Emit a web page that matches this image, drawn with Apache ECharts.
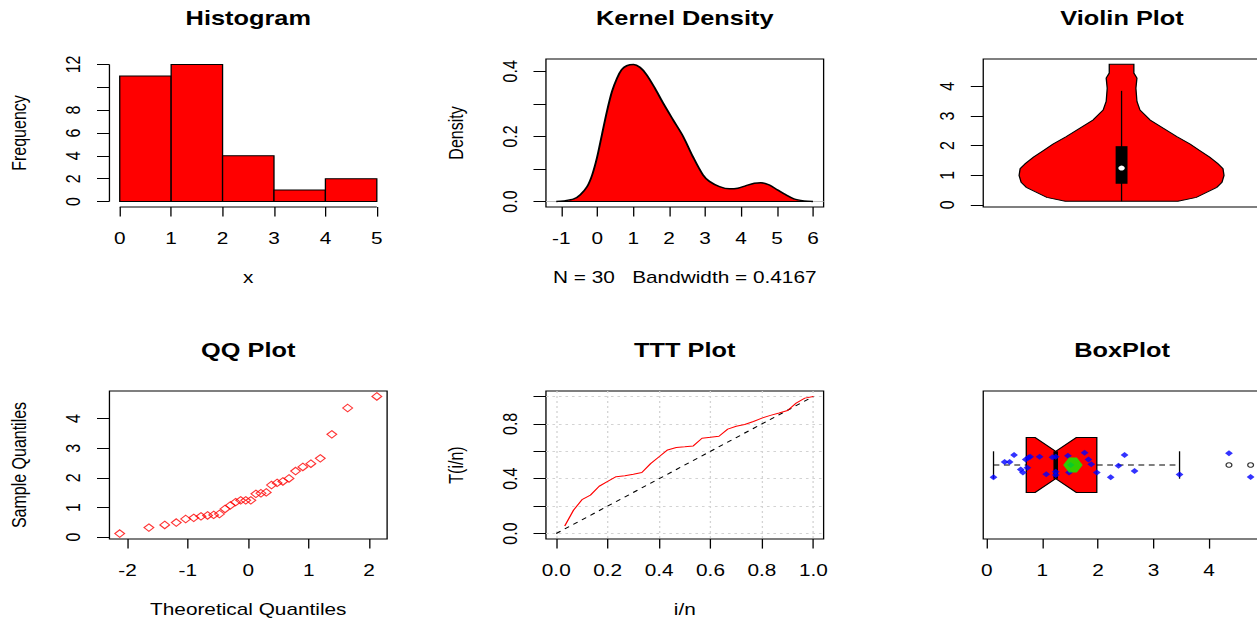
<!DOCTYPE html>
<html>
<head>
<meta charset="utf-8">
<title>Distribution plots</title>
<script src="https://cdn.jsdelivr.net/npm/echarts@6.0.0/dist/echarts.min.js"></script>
<style>
html, body { margin: 0; padding: 0; background: #fff; overflow: hidden; }
/* the reference is an R figure stretched sideways, so draw narrow and stretch */
#chart { width: 967px; height: 622px; transform: scaleX(1.2999); transform-origin: 0 0; }
</style>
</head>
<body>
<div id="chart"></div>
<script>
// sorted sample, n = 30
const sample = [0.12, 0.32, 0.41, 0.49, 0.61, 0.65, 0.70, 0.73, 0.75, 0.78,
                0.95, 1.07, 1.18, 1.24, 1.24, 1.24, 1.46, 1.48, 1.51, 1.76,
                1.83, 1.88, 1.98, 2.23, 2.37, 2.48, 2.66, 3.47, 4.36, 4.75];
// normal quantiles for the QQ plot
const qqTheory = [-2.128, -1.645, -1.383, -1.192, -1.036, -0.903, -0.783, -0.674, -0.573, -0.477,
                  -0.385, -0.297, -0.210, -0.126, -0.042, 0.042, 0.126, 0.210, 0.297, 0.385,
                  0.477, 0.573, 0.674, 0.783, 0.903, 1.036, 1.192, 1.383, 1.645, 2.128];

const histBreaks = [0, 1, 2, 3, 4, 5];
const histCounts = [11, 12, 4, 1, 2];

const densX = [-1.14, -0.93, -0.65, -0.47, -0.28, -0.14, -0.01, 0.13, 0.27, 0.41, 0.55, 0.68,
               0.82, 1.01, 1.19, 1.37, 1.60, 1.83, 2.11, 2.39, 2.66, 2.94, 3.12, 3.40, 3.68,
               3.91, 4.14, 4.37, 4.55, 4.78, 5.01, 5.24, 5.47, 5.75, 6.0];
const densY = [0, 0.002, 0.008, 0.021, 0.046, 0.082, 0.133, 0.205, 0.277, 0.338, 0.379, 0.405,
               0.417, 0.421, 0.412, 0.39, 0.349, 0.303, 0.251, 0.2, 0.138, 0.082, 0.062, 0.046, 0.039,
               0.041, 0.049, 0.056, 0.058, 0.051, 0.036, 0.021, 0.008, 0.002, 0];

const violinY    = [0.12, 0.25, 0.42, 0.59, 0.76, 0.99, 1.22, 1.39, 1.61, 1.84, 2.05, 2.30, 2.58, 2.86, 3.20, 3.49, 3.94, 4.28, 4.45, 4.75];
const violinHalf = [0.55, 0.73, 0.83, 0.93, 0.98, 1.00, 0.99, 0.94, 0.86, 0.76, 0.67, 0.54, 0.41, 0.28, 0.18, 0.15, 0.14, 0.15, 0.12, 0.12];
const violinWhisker = [0.12, 3.85];

const boxStats = [0.12, 0.71, 1.24, 1.98, 3.47];
const boxNotch = [0.87, 1.61];
const boxMean = 1.55;
const outliers = [4.36, 4.75];
const jitter = [-0.09, 0.022, 0.022, 0.073, -0.032, -0.054, 0.041, -0.02, 0.054, 0.061,
                0.061, -0.068, 0.056, 0.061, -0.049, -0.073, 0.068, -0.054, 0.0, 0.09,
                0.041, 0.005, -0.054, -0.09, -0.005, 0.073, -0.044, -0.07, 0.085, -0.088];

const tttX = [0.033, 0.067, 0.1, 0.133, 0.167, 0.2, 0.233, 0.267, 0.3, 0.333,
              0.367, 0.4, 0.433, 0.467, 0.5, 0.533, 0.567, 0.6, 0.633, 0.667,
              0.7, 0.733, 0.767, 0.8, 0.833, 0.867, 0.9, 0.933, 0.967, 1.0];
const tttY = [0.055, 0.17, 0.247, 0.28, 0.345, 0.38, 0.415, 0.421, 0.432, 0.445,
              0.51, 0.56, 0.61, 0.628, 0.633, 0.639, 0.695, 0.702, 0.71, 0.762,
              0.783, 0.795, 0.817, 0.842, 0.862, 0.88, 0.898, 0.951, 0.988, 1.0];

// tick marks and labels
const histXTicks = [0, 1, 2, 3, 4, 5];
const histYTicks = [0, 2, 4, 6, 8, 10, 12];
const histYLabels = [0, 2, 4, 6, 8, 12];
const densXTicks = [-1, 0, 1, 2, 3, 4, 5, 6];
const densYTicks = [0, 0.1, 0.2, 0.3, 0.4];
const densYLabels = [0, 0.2, 0.4];
const violinTicks = [0, 1, 2, 3, 4];
const qqXTicks = [-2, -1, 0, 1, 2];
const qqYTicks = [0, 1, 2, 3, 4];
const tttTicks = [0, 0.2, 0.4, 0.6, 0.8, 1];
const tttYLabels = [0, 0.4, 0.8];
const boxTicks = [0, 1, 2, 3, 4];

const FONT = '"Liberation Sans", Arial, sans-serif';
const COL = [84.2, 420.0, 756.4];
const ROW = [59, 391];
const GW = 213.6, GH = 148;

function makeGrid(c, r, boxed) {
  return {
    left: COL[c], top: ROW[r], width: GW, height: GH,
    show: boxed, borderColor: '#000', borderWidth: 1, backgroundColor: 'transparent',
    containLabel: false, outerBoundsMode: 'none'
  };
}

function axis(o) {
  const isY = o.dim === 'y';
  return {
    type: 'value', gridIndex: o.grid, min: o.min, max: o.max,
    show: o.show !== false,
    position: isY ? 'left' : 'bottom',
    name: o.name || '', nameLocation: 'middle', nameGap: isY ? 61.5 : 62,
    nameRotate: isY ? 90 : 0, nameMoveOverlap: false,
    nameTextStyle: { fontFamily: FONT, fontSize: 16, color: '#000' },
    axisLine: { show: false, onZero: false },
    axisTick: { show: true, length: 9.6, customValues: o.ticks, lineStyle: { color: '#000', width: 1 } },
    axisLabel: {
      customValues: o.labels || o.ticks, margin: isY ? 20 : 23, rotate: isY ? 90 : 0,
      fontFamily: FONT, fontSize: 16, color: '#000',
      formatter: o.fixed ? (v => Number(v).toFixed(1)) : (v => String(v))
    },
    splitLine: { show: !!o.split, lineStyle: { color: '#d3d3d3', width: 1, type: [2, 3] } }
  };
}

const chart = echarts.init(document.getElementById('chart'), null, { renderer: 'svg' });

const titles = [
  ['Histogram', 0, 0], ['Kernel Density', 1, 0], ['Violin Plot', 2, 0],
  ['QQ Plot', 0, 1], ['TTT Plot', 1, 1], ['BoxPlot', 2, 1]
].map(t => ({
  text: t[0], left: COL[t[1]] + GW / 2, top: t[2] === 0 ? 8.5 : 340.5,
  textAlign: 'center', padding: 0,
  textStyle: { fontFamily: FONT, fontSize: 19.5, fontWeight: 'bold', color: '#000' }
}));

const option = {
  animation: false,
  backgroundColor: '#fff',
  title: titles,
  grid: [
    makeGrid(0, 0, false), makeGrid(1, 0, true), makeGrid(2, 0, true),
    makeGrid(0, 1, true), makeGrid(1, 1, true), makeGrid(2, 1, true)
  ],
  xAxis: [
    axis({ dim: 'x', grid: 0, min: -0.2, max: 5.2, ticks: histXTicks, name: 'x' }),
    axis({ dim: 'x', grid: 1, min: -1.426, max: 6.296, ticks: densXTicks, name: 'N = 30   Bandwidth = 0.4167' }),
    axis({ dim: 'x', grid: 2, min: -1.35, max: 1.36, show: false }),
    axis({ dim: 'x', grid: 3, min: -2.298, max: 2.298, ticks: qqXTicks, name: 'Theoretical Quantiles' }),
    axis({ dim: 'x', grid: 4, min: -0.04, max: 1.04, ticks: tttTicks, fixed: true, split: true, name: 'i/n' }),
    axis({ dim: 'x', grid: 5, min: -0.065, max: 4.935, ticks: boxTicks })
  ],
  yAxis: [
    axis({ dim: 'y', grid: 0, min: -0.48, max: 12.48, ticks: histYTicks, labels: histYLabels, name: 'Frequency' }),
    axis({ dim: 'y', grid: 1, min: -0.0168, max: 0.4378, ticks: densYTicks, labels: densYLabels, fixed: true, name: 'Density' }),
    axis({ dim: 'y', grid: 2, min: -0.075, max: 4.925, ticks: violinTicks }),
    axis({ dim: 'y', grid: 3, min: -0.065, max: 4.935, ticks: qqYTicks, name: 'Sample Quantiles' }),
    axis({ dim: 'y', grid: 4, min: -0.04, max: 1.04, ticks: tttTicks, labels: tttYLabels, fixed: true, split: true, name: 'T(i/n)' }),
    axis({ dim: 'y', grid: 5, min: 0.46, max: 1.54, show: false })
  ],
  series: [
    // histogram bars
    {
      type: 'custom', xAxisIndex: 0, yAxisIndex: 0,
      data: histCounts.map((c, i) => [histBreaks[i], histBreaks[i + 1], c]),
      encode: { x: [0, 1], y: 2 },
      renderItem: (params, api) => {
        const a = api.coord([api.value(0), api.value(2)]);
        const b = api.coord([api.value(1), 0]);
        return {
          type: 'rect',
          shape: { x: a[0], y: a[1], width: b[0] - a[0], height: b[1] - a[1] },
          style: { fill: '#ff0000', stroke: '#000', lineWidth: 1 }
        };
      }
    },
    // histogram axis lines (R draws them only from first to last tick)
    {
      type: 'line', xAxisIndex: 0, yAxisIndex: 0, clip: false, silent: true, showSymbol: false, symbol: 'none',
      data: [[histXTicks[0], -0.48], [histXTicks[histXTicks.length - 1], -0.48]],
      lineStyle: { color: '#000', width: 1 }
    },
    {
      type: 'line', xAxisIndex: 0, yAxisIndex: 0, clip: false, silent: true, showSymbol: false, symbol: 'none',
      data: [[-0.2, histYTicks[0]], [-0.2, histYTicks[histYTicks.length - 1]]],
      lineStyle: { color: '#000', width: 1 }
    },
    // kernel density
    {
      type: 'line', xAxisIndex: 1, yAxisIndex: 1, symbol: 'none', smooth: 0.3,
      data: densX.map((x, i) => [x, densY[i]]),
      lineStyle: { color: '#000', width: 1.5 },
      areaStyle: { color: '#ff0000', opacity: 1 },
      markLine: {
        silent: true, symbol: 'none', label: { show: false },
        lineStyle: { color: '#bebebe', width: 1, type: 'solid' },
        data: [
          { yAxis: 0 },
          [{ coord: [densX[0], 0], lineStyle: { color: '#000', width: 1, type: 'solid' } },
           { coord: [densX[densX.length - 1], 0] }]
        ]
      }
    },
    // violin
    {
      type: 'custom', xAxisIndex: 2, yAxisIndex: 2,
      data: [[0, boxStats[2]]],
      renderItem: (params, api) => {
        const right = violinY.map((y, i) => api.coord([violinHalf[i], y]));
        const left = violinY.map((y, i) => api.coord([-violinHalf[i], y])).reverse();
        const b0 = api.coord([-0.058, boxStats[3]]);
        const b1 = api.coord([0.058, boxStats[1]]);
        const w0 = api.coord([0, violinWhisker[0]]);
        const w1 = api.coord([0, violinWhisker[1]]);
        const m = api.coord([0, boxStats[2]]);
        return {
          type: 'group', children: [
            { type: 'polygon', shape: { points: right.concat(left) }, style: { fill: '#ff0000', stroke: '#000', lineWidth: 1 } },
            { type: 'line', shape: { x1: w0[0], y1: w0[1], x2: w1[0], y2: w1[1] }, style: { stroke: '#000', lineWidth: 1 } },
            { type: 'rect', shape: { x: b0[0], y: b0[1], width: b1[0] - b0[0], height: b1[1] - b0[1] }, style: { fill: '#000' } },
            { type: 'circle', shape: { cx: m[0], cy: m[1], r: 2.5 }, style: { fill: '#fff' } }
          ]
        };
      }
    },
    // QQ plot
    {
      type: 'scatter', xAxisIndex: 3, yAxisIndex: 3,
      data: qqTheory.map((q, i) => [q, sample[i]]),
      symbol: 'diamond', symbolSize: 7.5,
      itemStyle: { color: 'transparent', borderColor: '#ff0000', borderWidth: 1 }
    },
    // TTT plot
    {
      type: 'line', xAxisIndex: 4, yAxisIndex: 4, symbol: 'none',
      data: [[0, 0], [1, 1]],
      lineStyle: { color: '#000', width: 1, type: [4, 4] }
    },
    {
      type: 'line', xAxisIndex: 4, yAxisIndex: 4, symbol: 'none',
      data: tttX.map((x, i) => [x, tttY[i]]),
      lineStyle: { color: '#ff0000', width: 1 }
    },
    // notched box plot
    {
      type: 'custom', xAxisIndex: 5, yAxisIndex: 5, z: 2,
      data: [boxStats],
      renderItem: (params, api) => {
        const [lo, q1, med, q3, hi] = boxStats;
        const P = (x, y) => api.coord([x, y]);
        const pts = [P(q1, 0.8), P(boxNotch[0], 0.8), P(med, 0.9), P(boxNotch[1], 0.8), P(q3, 0.8),
                     P(q3, 1.2), P(boxNotch[1], 1.2), P(med, 1.1), P(boxNotch[0], 1.2), P(q1, 1.2)];
        const seg = (a, b, style) => ({ type: 'line', shape: { x1: a[0], y1: a[1], x2: b[0], y2: b[1] }, style: style });
        const dash = { stroke: '#000', lineWidth: 1, lineDash: [4.5, 3.5] };
        const solid = { stroke: '#000', lineWidth: 1 };
        return {
          type: 'group', children: [
            seg(P(lo, 1), P(q1, 1), dash),
            seg(P(q3, 1), P(hi, 1), dash),
            seg(P(lo, 0.9), P(lo, 1.1), solid),
            seg(P(hi, 0.9), P(hi, 1.1), solid),
            { type: 'polygon', shape: { points: pts }, style: { fill: '#ff0000', stroke: '#000', lineWidth: 1 } },
            seg(P(med, 0.9), P(med, 1.1), { stroke: '#000', lineWidth: 3.5 })
          ]
        };
      }
    },
    {
      type: 'scatter', xAxisIndex: 5, yAxisIndex: 5, z: 3,
      data: outliers.map(v => [v, 1]),
      symbol: 'circle', symbolSize: 4.5,
      itemStyle: { color: 'transparent', borderColor: '#000', borderWidth: 1 }
    },
    {
      type: 'scatter', xAxisIndex: 5, yAxisIndex: 5, z: 4,
      data: sample.map((v, i) => [v, 1 + jitter[i]]),
      symbol: 'diamond', symbolSize: 6,
      itemStyle: { color: '#0000ff' }
    },
    {
      type: 'scatter', xAxisIndex: 5, yAxisIndex: 5, z: 5,
      data: [[boxMean, 1]],
      symbol: 'path://M3,0L7,0L10,5L7,10L3,10L0,5Z', symbolSize: [15, 15],
      itemStyle: { color: '#00ff00' }
    }
  ]
};

chart.setOption(option);
</script>
</body>
</html>
